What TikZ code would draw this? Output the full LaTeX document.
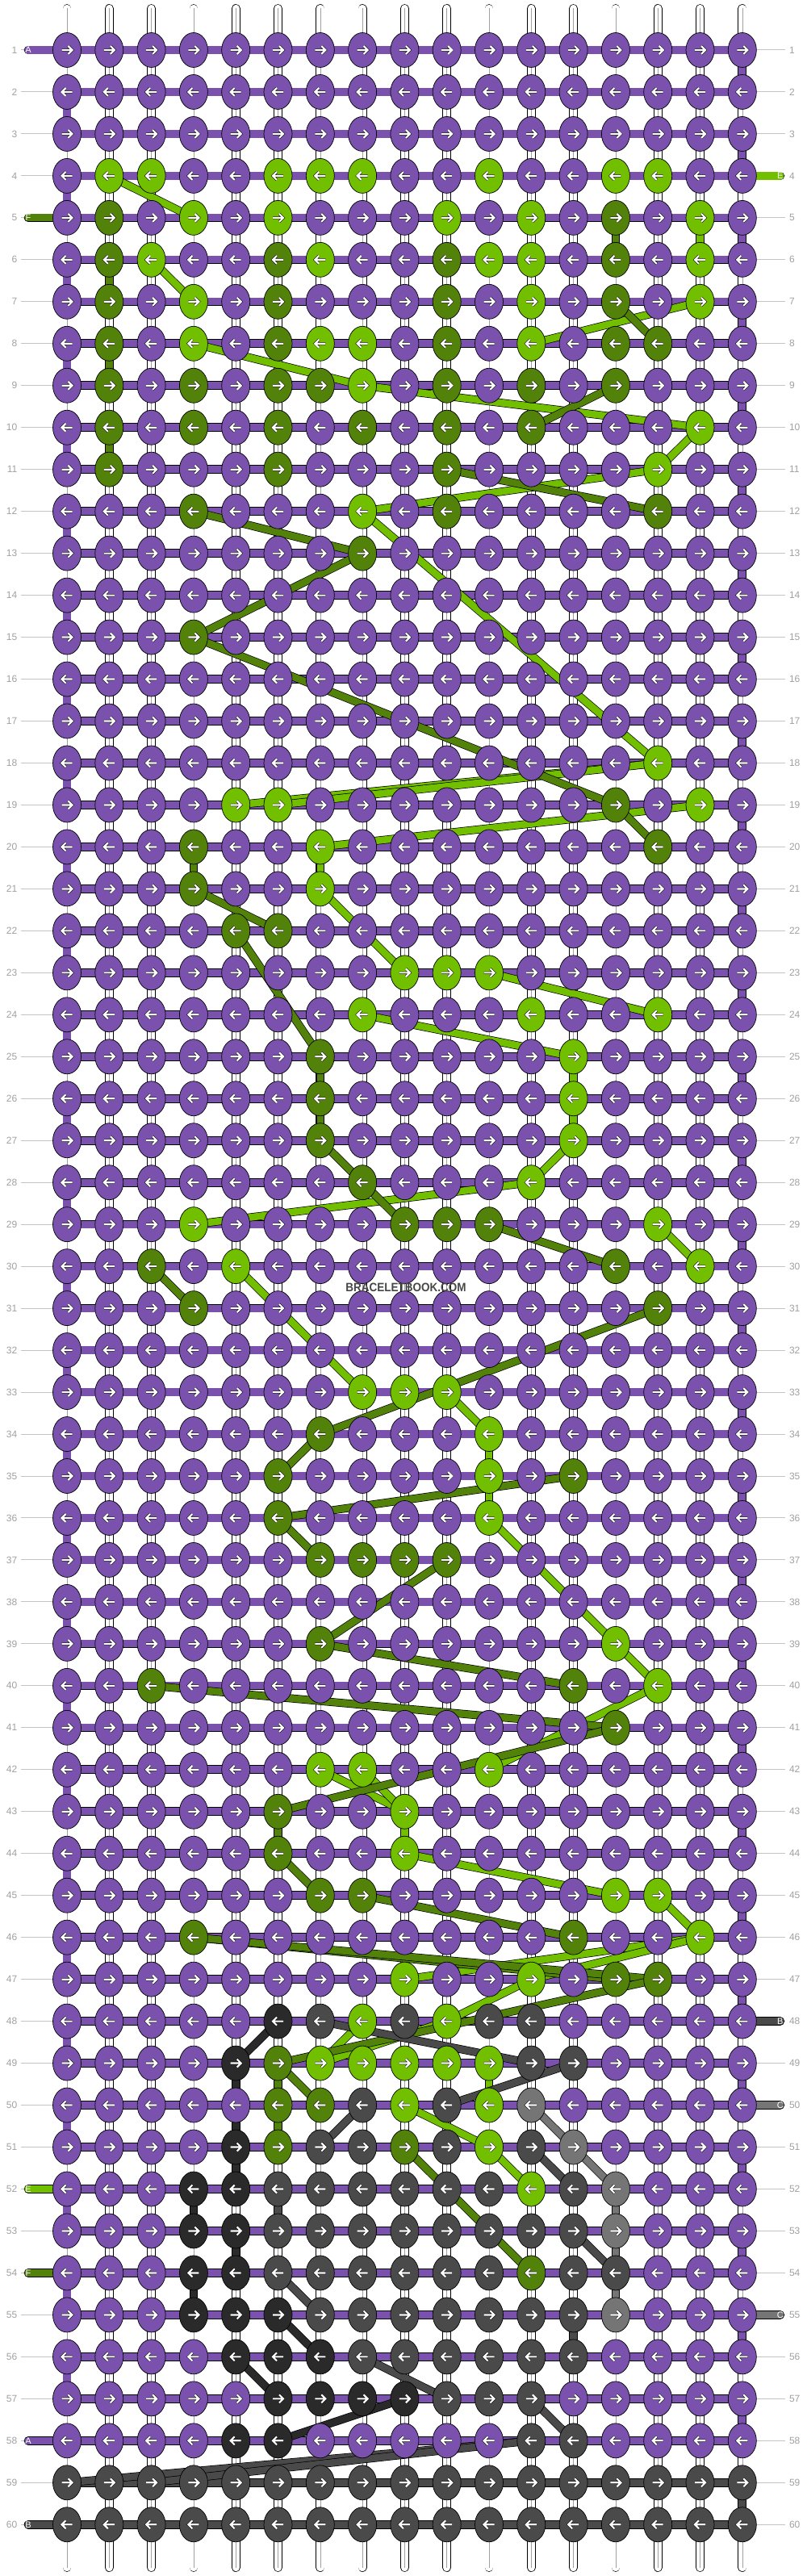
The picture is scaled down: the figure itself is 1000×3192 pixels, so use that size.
\documentclass[tikz,border=0pt]{standalone}
\usepackage{fontspec}
\setmainfont{Liberation Sans}
\usepackage{graphicx}
\usepackage{tikz}
\usetikzlibrary{
        backgrounds,
        positioning,
        shapes.geometric
    }
\definecolor{colP}{HTML}{7A52AD}
\definecolor{colL}{HTML}{72BF00}
\definecolor{colD}{HTML}{53820A}
\definecolor{colK}{HTML}{2A2A2A}
\definecolor{colG}{HTML}{4A4A4A}
\definecolor{colM}{HTML}{757575}
\definecolor{rowgray}{HTML}{A0A0A0}
\definecolor{rulegray}{HTML}{C4C4C4}
\pgfdeclarelayer{strands}
\pgfsetlayers{strands,main}
\tikzset{
    arrowline/.style={line width=0.5pt,double=white,double distance=2.2pt,line join=miter},
    knot/.style={ellipse,draw=black,line width=0.7pt,minimum width=35pt,minimum height=43pt,inner sep=0pt,
        path picture={\draw[arrowline] ([xshift={-6.5pt*#1}]path picture bounding box.center)
            -- ++({13pt*#1},0pt) ++({-5pt*#1},5pt) -- ++({5pt*#1},-5pt) -- ++({-5pt*#1},-5pt);}},
    base/.style={line width=0.7pt,double=white,double distance=9.4pt,line cap=round},
    band/.style={line width=0.7pt,double distance=9.2pt},
    seg/.style={line width=0.7pt,double distance=8.6pt},
    rowlab/.style={text=rowgray,font=\fontsize{12}{12}\selectfont,inner sep=0pt},
    rowline/.style={rulegray,line width=1pt},
    tag/.style={text=white,font=\fontsize{11}{11}\selectfont,inner sep=0pt}
}

\begin{document}
\begin{tikzpicture}[x=1pt,y=-1pt]
    \useasboundingbox (0,0) rectangle (1000,3192);
    % knots, one list per row
    \foreach \row [count=\r] in {
        {P,P,P,P,P,P,P,P,P,P,P,P,P,P,P,P,P},
        {P,P,P,P,P,P,P,P,P,P,P,P,P,P,P,P,P},
        {P,P,P,P,P,P,P,P,P,P,P,P,P,P,P,P,P},
        {P,L,L,P,P,L,L,L,P,P,L,P,P,L,L,P,P},
        {P,D,P,L,P,L,P,P,P,L,P,L,P,D,P,L,P},
        {P,D,L,P,P,D,L,P,P,D,L,L,P,D,P,L,P},
        {P,D,P,L,P,D,P,P,P,D,P,L,P,D,P,L,P},
        {P,D,P,L,P,D,L,L,P,D,P,L,P,D,D,P,P},
        {P,D,P,D,P,D,D,L,P,D,P,D,P,D,P,P,P},
        {P,D,P,D,P,D,P,D,P,D,P,D,P,P,P,L,P},
        {P,D,P,P,P,D,P,P,P,D,P,P,P,P,L,P,P},
        {P,P,P,D,P,P,P,L,P,D,P,P,P,P,D,P,P},
        {P,P,P,P,P,P,P,D,P,P,P,P,P,P,P,P,P},
        {P,P,P,P,P,P,P,P,P,P,P,P,P,P,P,P,P},
        {P,P,P,D,P,P,P,P,P,P,P,P,P,P,P,P,P},
        {P,P,P,P,P,P,P,P,P,P,P,P,P,P,P,P,P},
        {P,P,P,P,P,P,P,P,P,P,P,P,P,P,P,P,P},
        {P,P,P,P,P,P,P,P,P,P,P,P,P,P,L,P,P},
        {P,P,P,P,L,L,P,P,P,P,P,P,P,D,P,L,P},
        {P,P,P,D,P,P,L,P,P,P,P,P,P,P,D,P,P},
        {P,P,P,D,P,P,L,P,P,P,P,P,P,P,P,P,P},
        {P,P,P,P,D,D,P,P,P,P,P,P,P,P,P,P,P},
        {P,P,P,P,P,P,P,P,L,L,L,P,P,P,P,P,P},
        {P,P,P,P,P,P,P,L,P,P,P,L,P,P,L,P,P},
        {P,P,P,P,P,P,D,P,P,P,P,P,L,P,P,P,P},
        {P,P,P,P,P,P,D,P,P,P,P,P,L,P,P,P,P},
        {P,P,P,P,P,P,D,P,P,P,P,P,L,P,P,P,P},
        {P,P,P,P,P,P,P,D,P,P,P,L,P,P,P,P,P},
        {P,P,P,L,P,P,P,P,D,D,D,P,P,P,L,P,P},
        {P,P,D,P,L,P,P,P,P,P,P,P,P,D,P,L,P},
        {P,P,P,D,P,P,P,P,P,P,P,P,P,P,D,P,P},
        {P,P,P,P,P,P,P,P,P,P,P,P,P,P,P,P,P},
        {P,P,P,P,P,P,P,L,L,L,P,P,P,P,P,P,P},
        {P,P,P,P,P,P,D,P,P,P,L,P,P,P,P,P,P},
        {P,P,P,P,P,D,P,P,P,P,L,P,D,P,P,P,P},
        {P,P,P,P,P,D,P,P,P,P,L,P,P,P,P,P,P},
        {P,P,P,P,P,P,D,D,D,D,P,P,P,P,P,P,P},
        {P,P,P,P,P,P,P,P,P,P,P,P,P,P,P,P,P},
        {P,P,P,P,P,P,D,P,P,P,P,P,P,L,P,P,P},
        {P,P,D,P,P,P,P,P,P,P,P,P,D,P,L,P,P},
        {P,P,P,P,P,P,P,P,P,P,P,P,P,D,P,P,P},
        {P,P,P,P,P,P,L,L,P,P,L,P,P,P,P,P,P},
        {P,P,P,P,P,D,P,P,L,P,P,P,P,P,P,P,P},
        {P,P,P,P,P,D,P,P,L,P,P,P,P,P,P,P,P},
        {P,P,P,P,P,P,D,D,P,P,P,P,P,L,L,P,P},
        {P,P,P,D,P,P,P,P,P,P,P,P,D,P,P,L,P},
        {P,P,P,P,P,P,P,P,L,P,P,L,P,D,D,P,P},
        {P,P,P,P,P,K,G,L,G,L,G,G,P,P,P,P,P},
        {P,P,P,P,K,D,L,L,L,L,L,G,G,P,P,P,P},
        {P,P,P,P,P,D,D,G,L,G,L,M,P,P,P,P,P},
        {P,P,P,P,K,D,G,G,D,G,L,G,M,P,P,P,P},
        {P,P,P,K,K,G,G,G,G,G,G,L,G,M,P,P,P},
        {P,P,P,K,K,G,G,G,G,G,G,G,G,M,P,P,P},
        {P,P,P,K,K,G,G,G,G,G,G,D,G,G,P,P,P},
        {P,P,P,K,K,K,G,G,G,G,G,G,G,M,P,P,P},
        {P,P,P,P,K,K,K,G,G,G,G,G,G,P,P,P,P},
        {P,P,P,P,P,K,K,K,K,G,G,G,P,P,P,P,P},
        {P,P,P,P,K,K,P,P,P,P,P,G,G,P,P,P,P},
        {G,G,G,G,G,G,G,G,G,G,G,G,G,G,G,G,G},
        {G,G,G,G,G,G,G,G,G,G,G,G,G,G,G,G,G}} {
        \pgfmathtruncatemacro\s{isodd(\r)?1:-1}
        \foreach \k [count=\c] in \row {
            \node[knot=\s,fill=col\k] (k-\r-\c) at ({83+(\c-1)*52.3},{62+(\r-1)*51.97}) {};
        }
    }
    % row numbers
    \foreach \r in {1,...,60} {
        \node[rowlab,anchor=east] (nl-\r) at ([xshift=-61.5pt]k-\r-1) {\r};
        \node[rowlab,anchor=west] (nr-\r) at ([xshift=58pt]k-\r-17) {\r};
    }
    % string ends
    \foreach \r/\t in {1/A,5/F,52/E,54/F,58/A,60/B}
        \node[tag] (tl-\r) at ([xshift=-48pt]k-\r-1) {\t};
    \foreach \r/\t in {4/E,48/B,50/C,55/C}
        \node[tag] (tr-\r) at ([xshift=47pt]k-\r-17) {\t};
    \foreach \c in {1,...,17} {
        \coordinate (top-\c) at ([yshift=51.5pt]k-1-\c);
        \coordinate (bot-\c) at ([yshift=-53.3pt]k-60-\c);
    }
    \node[inner sep=0pt,text=black!72,font=\fontsize{15}{15}\selectfont\bfseries] (mark) at (503,1595)
        {\scalebox{0.9}[1]{BRACELETBOOK.COM}};

    \begin{pgfonlayer}{strands}
        % base strings
        \foreach \c in {1,...,17} {
            \draw[base] (top-\c) -- (bot-\c);
            \draw[rowgray,line width=0.6pt] (top-\c) -- (bot-\c);
        }
        \foreach \r in {1,...,60} {
            \draw[rowline] ([xshift=4.5pt]nl-\r.east) -- (k-\r-1);
            \draw[rowline] (k-\r-17) -- ([xshift=-4.5pt]nr-\r.west);
        }
        % rows and turns
        \foreach \r in {1,...,58}
            \draw[band,double=colP] (k-\r-1.center) -- (k-\r-17.center);
        \foreach \r in {59,60}
            \draw[band,double=colG] (k-\r-1.center) -- (k-\r-17.center);
        \foreach \r in {2,4,...,56} {
            \pgfmathtruncatemacro\s{\r+1}
            \draw[band,double=colP] (k-\r-1.center) -- (k-\s-1.center);
        }
        \foreach \r in {1,3,...,57} {
            \pgfmathtruncatemacro\s{\r+1}
            \draw[band,double=colP] (k-\r-17.center) -- (k-\s-17.center);
        }
        \draw[band,double=colG] (k-59-17.center) -- (k-60-17.center);
        \foreach \r/\k in {1/P,5/D,52/L,54/D,58/P,60/G}
            \draw[band,double=col\k,line cap=round] (tl-\r.center) -- (k-\r-1.center);
        \foreach \r/\k in {4/L,48/G,50/M,55/M}
            \draw[band,double=col\k,line cap=round] (k-\r-17.center) -- (tr-\r.center);
        % colour strands
        \foreach \a/\b in {4-2/5-4,5-16/6-16,6-3/7-4,7-16/8-12,8-4/9-8,9-8/10-16,10-16/11-15,
                11-15/12-8,12-8/18-15,18-15/19-5,18-15/19-6,19-16/20-7,20-7/21-7,21-7/23-9,
                23-11/24-15,24-8/25-13,25-13/26-13,26-13/27-13,27-13/28-12,28-12/29-4,
                29-15/30-16,30-5/33-8,33-10/34-11,34-11/35-11,35-11/36-11,36-11/39-14,
                39-14/40-15,40-15/42-11,42-7/43-9,42-8/43-9,43-9/44-9,44-9/45-14,45-15/46-16,
                46-16/47-9,46-16/47-12,47-12/48-10,48-8/49-7,48-10/49-7,49-11/50-11,
                50-9/51-11,51-11/52-12}
            \draw[seg,double=colL] (k-\a.center) -- (k-\b.center);
        \foreach \a/\b in {5-14/6-14,6-2/7-2,8-2/9-2,10-2/11-2,7-14/8-15,9-14/10-12,11-10/12-15,
                12-4/13-8,13-8/15-4,15-4/19-14,19-14/20-15,20-4/21-4,21-4/22-6,22-5/25-7,
                25-7/26-7,26-7/27-7,27-7/28-8,28-8/29-9,29-11/30-14,30-3/31-4,31-15/34-7,
                34-7/35-6,35-13/36-6,36-6/37-7,37-10/39-7,39-7/40-13,40-3/41-14,41-14/43-6,
                43-6/44-6,44-6/45-7,45-8/46-13,46-4/47-14,46-4/47-15,47-15/49-6,49-6/50-6,
                50-6/51-6,49-6/50-7,51-9/54-12}
            \draw[seg,double=colD] (k-\a.center) -- (k-\b.center);
        \foreach \a/\b in {48-6/49-5,49-5/51-5,51-5/52-5,52-4/53-4,53-5/54-5,54-4/55-4,
                55-6/56-7,56-5/57-6,57-9/58-6}
            \draw[seg,double=colK] (k-\a.center) -- (k-\b.center);
        \foreach \a/\b in {48-7/49-12,49-13/50-10,50-8/51-7,51-12/52-13,52-6/53-6,53-13/54-14,
                54-6/55-7,55-13/56-13,56-8/57-10,57-12/58-13,58-12/59-1,58-12/59-3}
            \draw[seg,double=colG] (k-\a.center) -- (k-\b.center);
        \foreach \a/\b in {50-12/51-13,51-13/52-14,52-14/55-14}
            \draw[seg,double=colM] (k-\a.center) -- (k-\b.center);
    \end{pgfonlayer}
\end{tikzpicture}
\end{document}
